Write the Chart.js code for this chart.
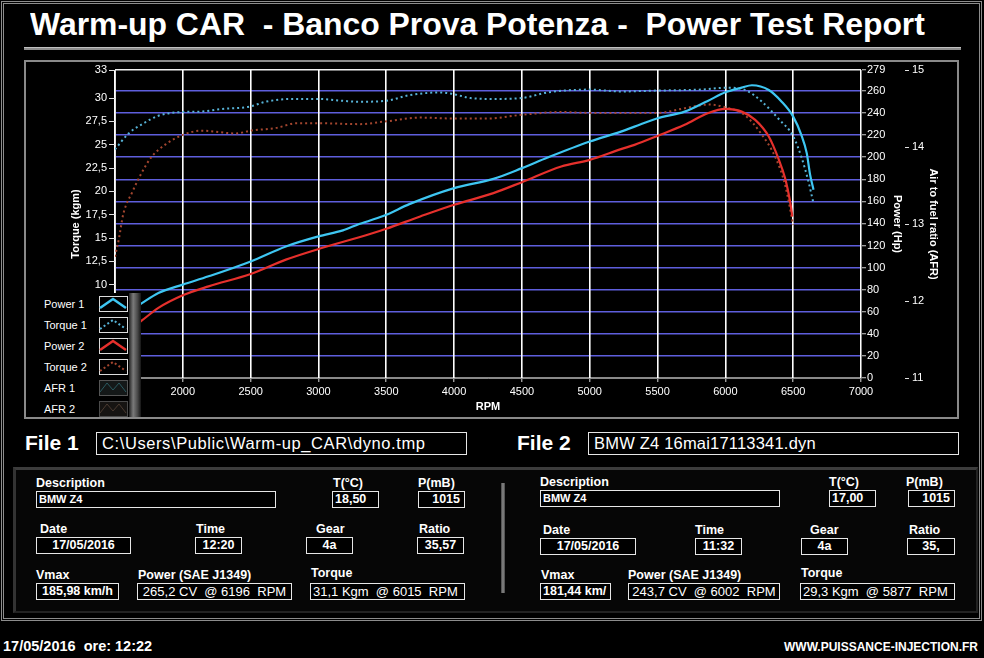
<!DOCTYPE html>
<html>
<head>
<meta charset="utf-8">
<title>Power Test Report</title>
<script src="https://cdn.jsdelivr.net/npm/chart.js@4.4.0/dist/chart.umd.min.js"></script>
<style>
  body { margin: 0; width: 984px; height: 658px; background: #000; position: relative; overflow: hidden;
         font-family: "Liberation Sans", Arial, sans-serif; color: #fff; }
  .abs { position: absolute; }
  .frame { left: 1px; top: 1px; width: 981px; height: 620px; border: 3px double #8c8c8c; box-sizing: border-box; }
  .title { left: 30px; top: 6px; font-weight: bold; font-size: 32px; white-space: pre; transform-origin: 0 0; }
  .rule { left: 24px; top: 47px; width: 937px; height: 2px; background: #8c8c8c; border-top: 1px solid #c0c0c0; }
  .panel { left: 24px; top: 60px; width: 935px; height: 359px; border: 2px solid #8a8a8a; box-sizing: border-box;
           pointer-events: none; z-index: 3; }
  #wrap { left: 25px; top: 60px; width: 933px; height: 358px; background: #000; }
  .legend { left: 27px; top: 293px; width: 114px; height: 124px; background: #000; z-index: 2; }
  .legend .bar { position: absolute; left: 102px; top: 0; width: 12px; height: 124px;
                 background: linear-gradient(to right, #222, #7a7a7a 35%, #4a4a4a 70%, #151515); }
  .legend .txt { position: absolute; left: 17px; font-size: 11px; line-height: 14px; }
  .legend svg { position: absolute; left: 72px; }
  .file { font-weight: bold; font-size: 21px; line-height: 24px; }
  .path { height: 23px; border: 1px solid #e6e6e6; box-sizing: border-box; font-size: 16.5px; line-height: 21px;
          padding-left: 5px; white-space: pre; letter-spacing: 0.6px; }
  .info { left: 13px; top: 467px; width: 965px; height: 146px; background: #060606; box-sizing: border-box;
          border-top: 3px solid #3c3c3c; border-left: 3px solid #333; border-right: 2px solid #222; border-bottom: 2px solid #222; }
  .divider { left: 501px; top: 483px; width: 4px; height: 110px; background: linear-gradient(to right, #444, #8a8a8a, #444); }
  .lbl { font-weight: bold; font-size: 12.5px; line-height: 16px; white-space: pre; }
  .box { height: 17px; border: 1px solid #e6e6e6; box-sizing: border-box; background: #000; white-space: pre;
         font-weight: bold; font-size: 12.5px; line-height: 15px; overflow: hidden; }
  .small { font-size: 11px; }
  .big { font-weight: normal; font-size: 13px; }
  .foot { font-size: 14.5px; font-weight: bold; line-height: 16px; white-space: pre; }
</style>
</head>
<body>
<div class="abs frame"></div>
<div class="abs title" id="title">Warm-up CAR  - Banco Prova Potenza -  Power Test Report</div>
<div class="abs rule"></div>

<div class="abs" id="wrap"><canvas id="dyno" width="933" height="358"></canvas></div>
<div class="abs panel"></div>
<div class="abs legend" id="legend"><div class="bar"></div></div>

<div class="abs file" style="left:25px;top:431px;">File 1</div>
<div class="abs path" style="left:96px;top:432px;width:371px;">C:\Users\Public\Warm-up_CAR\dyno.tmp</div>
<div class="abs file" style="left:517px;top:431px;">File 2</div>
<div class="abs path" style="left:588px;top:432px;width:371px;letter-spacing:0.2px;">BMW Z4 16mai17113341.dyn</div>

<div class="abs info"></div>
<div class="abs divider"></div>
<div id="fields"></div>

<div class="abs foot" style="left:3px;top:638px;">17/05/2016  ore: 12:22</div>
<div class="abs foot" style="right:6px;top:639px;font-size:12px;">WWW.PUISSANCE-INJECTION.FR</div>

<script>
// Curves
const rpmPower1 = [1600, 1690, 1820, 2000, 2190, 2500, 2760, 3000, 3180, 3300, 3380, 3500, 3670, 4000, 4290, 4500, 4690, 5000, 5230, 5330, 5500, 5700, 5870, 6000, 6120, 6196, 6320, 6415, 6500, 6560, 6600, 6625, 6650];
const power1 = [60, 67.1, 77.0, 84.6, 92.1, 105.6, 119.2, 128.3, 133.7, 139.5, 142.7, 147.9, 157.5, 172.0, 180.4, 190.1, 199.7, 214.2, 223.2, 227.7, 235.3, 241.3, 251.0, 258.8, 263.0, 265.2, 260.9, 250.3, 236.8, 220.2, 203.7, 184.0, 170.5];

const rpmTorque1 = [1500, 1600, 1700, 1820, 2000, 2140, 2270, 2500, 2610, 2810, 3000, 3180, 3300, 3500, 3670, 3900, 4000, 4120, 4290, 4500, 4690, 5000, 5230, 5500, 5820, 6015, 6140, 6270, 6390, 6500, 6560, 6610, 6650];
const torque1 = [24.5, 26.2, 27.2, 28.1, 28.5, 28.55, 28.8, 29.1, 29.6, 29.9, 29.9, 29.7, 29.6, 29.7, 30.3, 30.6, 30.4, 30.0, 29.9, 30.0, 30.6, 30.9, 30.7, 30.8, 30.9, 31.1, 30.9, 29.6, 27.8, 25.9, 23.7, 21.2, 18.7];

const rpmPower2 = [1600, 1690, 1820, 2000, 2190, 2500, 2760, 3000, 3380, 3500, 3750, 4000, 4290, 4500, 4790, 5000, 5230, 5330, 5500, 5700, 5870, 6002, 6120, 6220, 6320, 6390, 6440, 6477, 6494];
const power2 = [44, 51.4, 63.5, 74.9, 83.0, 94.2, 107.2, 116.8, 130.4, 135.2, 146.3, 156.9, 167.5, 177.4, 191.6, 197.6, 207.3, 211.2, 219.3, 229.3, 239.8, 243.7, 241.3, 233.8, 218.7, 199.1, 181.1, 159.9, 146.3];

const rpmTorque2 = [1500, 1530, 1560, 1630, 1690, 1770, 1870, 2000, 2140, 2390, 2500, 2690, 2840, 3000, 3300, 3500, 3750, 4000, 4240, 4500, 4790, 5000, 5230, 5500, 5700, 5877, 6000, 6140, 6270, 6370, 6440, 6500];
const torque2 = [13.0, 15.0, 17.5, 20.0, 21.8, 23.7, 25.0, 26.05, 26.5, 26.2, 26.5, 26.8, 27.3, 27.3, 27.2, 27.5, 27.9, 27.8, 27.8, 28.2, 28.5, 28.4, 28.4, 28.4, 28.9, 29.3, 29.0, 28.2, 26.05, 23.6, 20.7, 16.4];

const torqueTicks = [0, 2.5, 5, 7.5, 10, 12.5, 15, 17.5, 20, 22.5, 25, 27.5, 30, 33];
const powerTicks = [0, 20, 40, 60, 80, 100, 120, 140, 160, 180, 200, 220, 240, 260, 279];
const afrTicks = [11, 12, 13, 14, 15];
const legendNames = ['Power 1', 'Torque 1', 'Power 2', 'Torque 2', 'AFR 1', 'AFR 2'];

const colPower1 = '#3ec6f2', colTorque1 = '#56b2d6', colPower2 = '#e6302c', colTorque2 = '#a4462f';

function pts(xs, ys) {
    return xs.map((x, i) => ({ x: x, y: ys[i] }));
}

// fit the title to its width in the original report
const title = document.getElementById('title');
title.style.transform = 'scaleX(' + (895 / title.offsetWidth) + ')';

const tickFont = { family: 'Liberation Sans', size: 11 };
const titleFont = { family: 'Liberation Sans', size: 11, weight: 'bold' };
// blue grid on the power ticks, white along the top, grey at the base
const powerGridColors = powerTicks.map(v => v === 279 ? '#f0f0f0' : (v === 0 ? '#8a8a8a' : '#5e5edc'));

new Chart(document.getElementById('dyno'), {
    type: 'line',
    data: {
        datasets: [
            { label: 'Power 1', data: pts(rpmPower1, power1), yAxisID: 'power', borderColor: colPower1, borderWidth: 2.2 },
            { label: 'Torque 1', data: pts(rpmTorque1, torque1), yAxisID: 'torque', borderColor: colTorque1, borderWidth: 2, borderDash: [2, 3] },
            { label: 'Power 2', data: pts(rpmPower2, power2), yAxisID: 'power', borderColor: colPower2, borderWidth: 2.2 },
            { label: 'Torque 2', data: pts(rpmTorque2, torque2), yAxisID: 'torque', borderColor: colTorque2, borderWidth: 2, borderDash: [2, 3] },
            { label: 'AFR 1', data: [], yAxisID: 'afr', borderColor: '#2a5a60' },
            { label: 'AFR 2', data: [], yAxisID: 'afr', borderColor: '#4a3a30' }
        ]
    },
    options: {
        responsive: false,
        animation: false,
        layout: { padding: { top: 10, left: 0, right: 0, bottom: 0 } },
        elements: { point: { radius: 0 }, line: { cubicInterpolationMode: 'monotone' } },
        plugins: { legend: { display: false }, tooltip: { enabled: false } },
        scales: {
            x: {
                type: 'linear', min: 1500, max: 7000,
                ticks: { stepSize: 500, color: '#fff', font: tickFont, padding: 3, maxRotation: 0,
                         callback: v => String(v) },
                grid: { z: -1, color: '#ffffff', lineWidth: 1.6, tickWidth: 1, tickColor: '#ddd', tickLength: 4 },
                border: { color: '#8a8a8a' },
                title: { display: true, text: 'RPM', color: '#fff', font: titleFont, padding: { top: 0, bottom: 4 } },
                afterFit: s => { s.height = 40; }
            },
            torque: {
                position: 'left', min: 0, max: 33,
                afterBuildTicks: s => { s.ticks = torqueTicks.map(v => ({ value: v })); },
                ticks: { color: '#fff', font: tickFont, padding: 2, autoSkip: false,
                         callback: v => String(v).replace('.', ',') },
                grid: { drawOnChartArea: false, color: '#e0e0e0', tickLength: 6 },
                border: { color: '#e0e0e0' },
                title: { display: true, text: 'Torque (kgm)', color: '#fff', font: titleFont, padding: { top: 44, bottom: 0 } },
                afterFit: s => { s.width = 90; }
            },
            power: {
                position: 'right', weight: 0, min: 0, max: 279,
                afterBuildTicks: s => { s.ticks = powerTicks.map(v => ({ value: v })); },
                ticks: { color: '#fff', font: tickFont, padding: 1, autoSkip: false },
                grid: { z: -2, lineWidth: 1.5, tickWidth: 1, tickLength: 5, tickColor: '#cfcfcf', color: powerGridColors },
                border: { color: '#8a8a8a' },
                title: { display: true, text: 'Power (Hp)', color: '#fff', font: titleFont, padding: { top: 1.5, bottom: 0 } },
                afterFit: s => { s.width = 44; }
            },
            afr: {
                position: 'right', weight: 1, min: 11, max: 15,
                afterBuildTicks: s => { s.ticks = afrTicks.map(v => ({ value: v })); },
                ticks: { color: '#fff', font: tickFont, padding: 3 },
                grid: { drawOnChartArea: false, color: '#e0e0e0', tickLength: 4 },
                border: { display: false },
                title: { display: true, text: 'Air to fuel ratio (AFR)', color: '#fff', font: titleFont, padding: { top: 18, bottom: 0 } },
                afterFit: s => { s.width = 53; }
            }
        }
    }
});

// legend rows, drawn like the report's key
const legend = document.getElementById('legend');
const legendStyles = [
    { c: colPower1, w: 2.5, dash: '', border: '#dcdcdc', bg: '#000' },
    { c: colTorque1, w: 2, dash: '2,2.5', border: '#dcdcdc', bg: '#000' },
    { c: colPower2, w: 2.5, dash: '', border: '#dcdcdc', bg: '#000' },
    { c: colTorque2, w: 2, dash: '2,2.5', border: '#dcdcdc', bg: '#000' },
    { c: '#2a5a60', w: 1, dash: '', border: '#555', bg: '#141818', zig: true },
    { c: '#4a3a30', w: 1, dash: '', border: '#4a4a4a', bg: '#161412', zig: true }
];
legendNames.forEach((name, i) => {
    const top = 3 + i * 21;
    const t = document.createElement('div');
    t.className = 'txt';
    t.style.top = (top + 1) + 'px';
    t.textContent = name;
    legend.appendChild(t);
    const st = legendStyles[i];
    const line = st.zig ? '1,12 8,3 14,10 20,3 27,12' : '1,12 14,3 27,12';
    legend.insertAdjacentHTML('beforeend',
        '<svg width="29" height="16" style="top:' + top + 'px">' +
        '<rect x="0.5" y="0.5" width="28" height="15" fill="' + st.bg + '" stroke="' + st.border + '"/>' +
        '<polyline points="' + line + '" fill="none" stroke="' + st.c + '" stroke-width="' + st.w + '"' +
        (st.dash ? ' stroke-dasharray="' + st.dash + '"' : '') + '/></svg>');
});

// test sheet fields: [label, value, labelX, labelY, boxX, boxY, boxW, align, style]
const fieldDefs = [
    ['Description', 'BMW Z4', 36, 475, 36, 491, 240, 'left', 'small'],
    ['T(°C)', '18,50', 333, 475, 332, 491, 47, 'left', ''],
    ['P(mB)', '1015', 418, 475, 418, 491, 47, 'right', ''],
    ['Date', '17/05/2016', 40, 521, 36, 537, 95, 'center', ''],
    ['Time', '12:20', 196, 521, 195, 537, 47, 'center', ''],
    ['Gear', '4a', 316, 521, 306, 537, 47, 'center', ''],
    ['Ratio', '35,57', 419, 521, 417, 537, 47, 'center', ''],
    ['Vmax', '185,98 km/h', 36, 567, 36, 583, 83, 'center', ''],
    ['Power (SAE J1349)', '265,2 CV  @ 6196  RPM', 138, 567, 137, 583, 155, 'center', 'big'],
    ['Torque', '31,1 Kgm  @ 6015  RPM', 311, 565, 310, 583, 155, 'left', 'big'],
    ['Description', 'BMW Z4', 540, 474, 540, 490, 240, 'left', 'small'],
    ['T(°C)', '17,00', 829, 474, 829, 490, 47, 'left', ''],
    ['P(mB)', '1015', 906, 474, 908, 490, 47, 'right', ''],
    ['Date', '17/05/2016', 543, 522, 540, 538, 96, 'center', ''],
    ['Time', '11:32', 695, 522, 695, 538, 47, 'center', ''],
    ['Gear', '4a', 810, 522, 801, 538, 47, 'center', ''],
    ['Ratio', '35,', 909, 522, 907, 538, 48, 'center', ''],
    ['Vmax', '181,44 km/', 541, 567, 540, 583, 71, 'left', ''],
    ['Power (SAE J1349)', '243,7 CV  @ 6002  RPM', 628, 567, 628, 583, 152, 'center', 'big'],
    ['Torque', '29,3 Kgm  @ 5877  RPM', 801, 565, 800, 583, 155, 'left', 'big']
];
const fields = document.getElementById('fields');
fieldDefs.forEach(f => {
    const l = document.createElement('div');
    l.className = 'abs lbl';
    l.style.left = f[2] + 'px';
    l.style.top = f[3] + 'px';
    l.textContent = f[0];
    fields.appendChild(l);
    const b = document.createElement('div');
    b.className = 'abs box ' + f[8];
    b.style.left = f[4] + 'px';
    b.style.top = f[5] + 'px';
    b.style.width = f[6] + 'px';
    b.style.textAlign = f[7];
    b.style.padding = f[7] === 'right' ? '0 4px 0 0' : (f[7] === 'left' ? '0 0 0 2px' : '0');
    b.textContent = f[1];
    fields.appendChild(b);
});
</script>
</body>
</html>
